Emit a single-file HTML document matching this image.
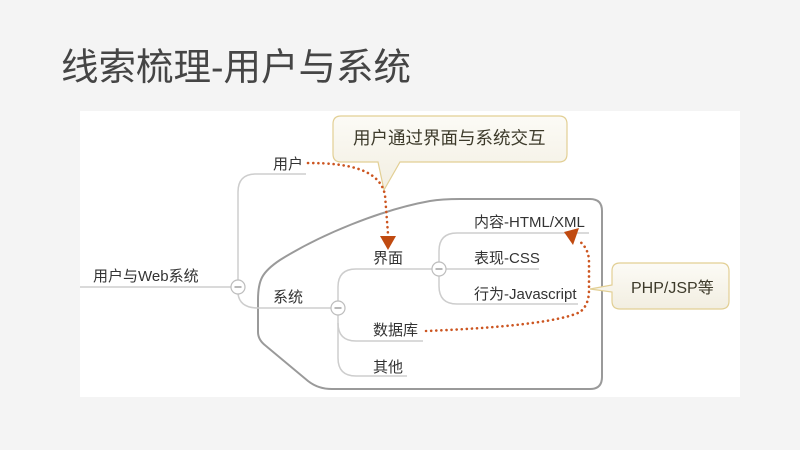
<!DOCTYPE html>
<html><head><meta charset="utf-8"><style>
html,body{margin:0;padding:0;background:#f4f4f4;}
svg{display:block;}
text{font-family:"Liberation Sans","Noto Sans CJK SC",sans-serif;}
</style></head><body>
<svg width="800" height="450" viewBox="0 0 800 450" xmlns="http://www.w3.org/2000/svg">
<defs>
<linearGradient id="cg" x1="0" y1="0" x2="0" y2="1">
<stop offset="0" stop-color="#fcfbf6"/><stop offset="1" stop-color="#f2eee1"/>
</linearGradient>
</defs>
<rect x="0" y="0" width="800" height="450" fill="#f4f4f4"/>
<text x="61" y="80" font-size="37.5" fill="#454545">线索梳理-用户与系统</text>
<rect x="80" y="111" width="660" height="286" fill="#ffffff"/>

<!-- grey boundary -->
<path d="M258,332 V300 C258,280 262,272 280,260 C320,235 380,210 430,201 Q442,199 460,199 H590 Q602,199 602,211 V377 Q602,389 590,389 H332 Q318,389 308,381 L266,346 Q258,340 258,332 Z" fill="none" stroke="#9a9a9a" stroke-width="2"/>

<!-- branches -->
<g fill="none" stroke="#cdcdcd" stroke-width="1.5">
<path d="M80,287 H231"/>
<path d="M238,280 V192 Q238,174 256,174 H306"/>
<path d="M238,294 Q240,308 258,308 H331"/>
<path d="M338,301 V287 Q338,269 356,269 H432"/>
<path d="M338,315 V358 Q338,376 356,376 H407"/>
<path d="M338,323 Q338,341 356,341 H423"/>
<path d="M439,262 V251 Q439,233 457,233 H589"/>
<path d="M446,269 H539"/>
<path d="M439,276 V286 Q439,304 457,304 H578"/>
</g>
<g fill="#fff" stroke="#bdbdbd" stroke-width="1.2">
<circle cx="238" cy="287" r="7"/>
<circle cx="338" cy="308" r="7"/>
<circle cx="439" cy="269" r="7"/>
</g>
<g stroke="#888" stroke-width="1.2">
<path d="M234.5,287 H241.5"/>
<path d="M334.5,308 H341.5"/>
<path d="M435.5,269 H442.5"/>
</g>

<!-- labels -->
<g font-size="15" fill="#333">
<text x="93" y="281">用户与Web系统</text>
<text x="273" y="169">用户</text>
<text x="273" y="302">系统</text>
<text x="373" y="263">界面</text>
<text x="373" y="335">数据库</text>
<text x="373" y="372">其他</text>
<text x="474" y="227">内容-HTML/XML</text>
<text x="474" y="263">表现-CSS</text>
<text x="474" y="299">行为-Javascript</text>
</g>

<!-- callouts -->
<path d="M341,116 H559 Q567,116 567,124 V154 Q567,162 559,162 H400 L384,190 L378,162 H341 Q333,162 333,154 V124 Q333,116 341,116 Z" fill="url(#cg)" stroke="#e2cf94" stroke-width="1.2"/>
<text x="353" y="144" font-size="17.5" fill="#3d3a2a">用户通过界面与系统交互</text>

<path d="M620,263 H721 Q729,263 729,271 V301 Q729,309 721,309 H620 Q612,309 612,301 V292 L590,289 L612,285 V271 Q612,263 620,263 Z" fill="url(#cg)" stroke="#e2cf94" stroke-width="1.2"/>
<text x="631" y="293" font-size="16" fill="#3d3a2a">PHP/JSP等</text>

<!-- dotted relations -->
<g fill="none" stroke="#cc5520" stroke-width="2.6" stroke-linecap="round" stroke-dasharray="0.1 5">
<path d="M308,163 C350,163 380,170 385,195 L388,234"/>
<path d="M426,331 C500,328 560,322 580,312 Q589,305 589,290 V262 Q589,248 578,240"/>
</g>
<polygon points="380,236 396,236 388,250" fill="#c04a10"/>
<polygon points="564,232 579,228 573,245" fill="#c04a10"/>
</svg>
</body></html>
